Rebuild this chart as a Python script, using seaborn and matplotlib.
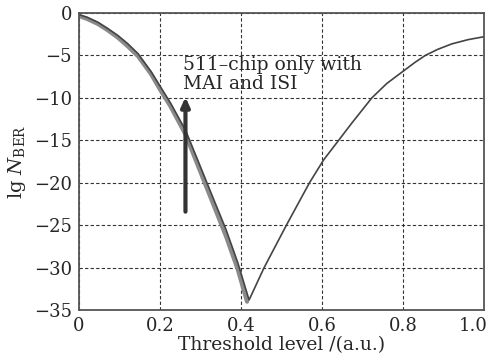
import matplotlib
matplotlib.use("Agg")
import matplotlib.pyplot as plt
import matplotlib.transforms as mtransforms
import seaborn as sns
import pandas as pd

threshold = [0.0, 0.02, 0.047, 0.07, 0.096, 0.12, 0.146, 0.178, 0.20, 0.226, 0.263,
             0.293, 0.333, 0.363, 0.392, 0.42, 0.457, 0.512, 0.569, 0.604, 0.641,
             0.673, 0.698, 0.723, 0.76, 0.802, 0.83, 0.855, 0.885, 0.92, 0.96, 1.0]
lg_ber = [-0.2, -0.5, -1.1, -1.8, -2.65, -3.6, -4.8, -6.9, -8.6, -10.6, -13.8,
          -17.3, -22.0, -25.5, -29.4, -33.8, -30.0, -25.0, -20.0, -17.3, -15.0,
          -13.0, -11.5, -10.0, -8.3, -6.8, -5.8, -5.0, -4.3, -3.65, -3.15, -2.8]
# second (overlapping) curve, visible as a band on the falling branch
threshold_b = [0.0, 0.02, 0.047, 0.07, 0.096, 0.12, 0.146, 0.178, 0.20, 0.226,
               0.263, 0.293, 0.333, 0.363, 0.392, 0.415]
lg_ber_b = [-0.35, -0.7, -1.3, -2.0, -2.9, -3.9, -5.1, -7.2, -9.0, -11.0,
            -14.3, -17.9, -22.7, -26.3, -30.2, -34.0]

xticks = [0, 0.2, 0.4, 0.6, 0.8, 1.0]
xticklabels = ["0", "0.2", "0.4", "0.6", "0.8", "1.0"]
yticks = [0, -5, -10, -15, -20, -25, -30, -35]
yticklabels = ["0", "\u22125", "\u221210", "\u221215", "\u221220", "\u221225", "\u221230", "\u221235"]

sns.set_style("white")
plt.rcParams["font.family"] = ["DejaVu Serif"]
plt.rcParams["mathtext.fontset"] = "dejavuserif"

fig = plt.figure(figsize=(4.9, 3.59), dpi=100)
ax = fig.add_axes([0.161, 0.136, 0.827, 0.828])

df_a = pd.DataFrame({"x": threshold, "y": lg_ber})
df_b = pd.DataFrame({"x": threshold_b, "y": lg_ber_b})
sns.lineplot(data=df_b, x="x", y="y", ax=ax, color="#8a8a8a", lw=3.0, sort=False)
sns.lineplot(data=df_a, x="x", y="y", ax=ax, color="#444444", lw=1.2, sort=False)

ax.set_xlim(0, 1.0)
ax.set_ylim(-35, 0)
ax.set_xticks(xticks)
ax.set_xticklabels(xticklabels)
ax.set_yticks(yticks)
ax.set_yticklabels(yticklabels)
ax.tick_params(labelsize=13, length=0, pad=5)
last = ax.get_xticklabels()[-1]
last.set_transform(last.get_transform() +
                   mtransforms.ScaledTranslation(-8 / 72, 0, fig.dpi_scale_trans))
ax.grid(True, linestyle=(0, (3, 2)), color="#333333", lw=0.8)
for s in ax.spines.values():
    s.set_color("#555555")
    s.set_linewidth(1.3)

ax.set_xlabel("Threshold level /(a.u.)", fontsize=13.5, labelpad=1)
ax.set_ylabel(r"lg $N_{\rm BER}$", fontsize=14, labelpad=4)

ax.annotate("", xy=(0.263, -9.9), xytext=(0.263, -23.4),
            arrowprops=dict(arrowstyle="-|>,head_width=0.25,head_length=0.55",
                            color="#333333", lw=3.0, shrinkA=0, shrinkB=0))
ax.text(0.257, -5.1, "511\u2013chip only with\nMAI and ISI", fontsize=13.5,
        va="top", ha="left", linespacing=1.05)

ax.set_axisbelow(True)
fig.savefig("out.png", dpi=100)
